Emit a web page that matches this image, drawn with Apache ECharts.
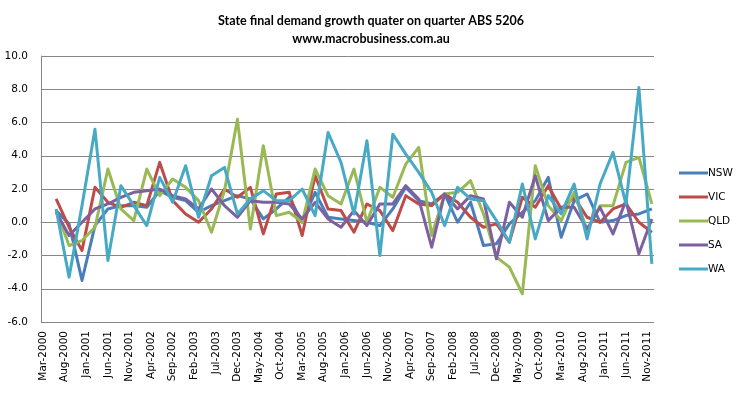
<!DOCTYPE html>
<html>
<head>
<meta charset="utf-8">
<script src="https://cdn.jsdelivr.net/npm/echarts@6/dist/echarts.min.js"></script>
<style>
html,body{margin:0;padding:0;background:#fff;}
#chart{width:742px;height:393px;}
</style>
</head>
<body>
<div id="chart"></div>
<script>
// Axis runs monthly from Mar-2000 to Dec-2011; data are quarterly from Jun-2000 to Dec-2011
var monthNames = ['Jan','Feb','Mar','Apr','May','Jun','Jul','Aug','Sep','Oct','Nov','Dec'];
var axisStart = {year: 2000, month: 2};
var axisEnd = {year: 2011, month: 11};
var firstQuarter = {year: 2000, month: 5};

var seriesNames = ['NSW', 'VIC', 'QLD', 'SA', 'WA'];
var NSW = [0.7,-0.1,-3.5,-0.2,0.8,1.0,1.0,0.9,1.9,1.5,1.3,0.6,1.0,1.3,1.6,1.4,0.2,0.8,1.5,0.0,1.8,0.3,0.2,0.1,0.0,-0.2,0.8,2.1,1.3,1.1,1.7,0.0,1.2,-1.4,-1.3,-0.1,0.6,1.3,2.7,-0.9,1.3,1.7,0.0,0.1,0.4,0.5,0.8];
var VIC = [1.4,-0.3,-1.7,2.1,1.2,0.9,1.2,1.0,3.6,1.3,0.5,0.0,0.8,2.0,1.5,2.1,-0.7,1.7,1.8,-0.8,2.8,0.8,0.7,-0.6,1.1,0.7,-0.5,1.6,1.1,1.0,1.7,1.2,0.3,-0.3,-0.1,-1.2,1.5,0.9,2.2,0.8,1.5,0.3,0.0,0.8,1.1,0.0,-0.6];
var QLD = [0.7,-1.4,-1.1,-0.3,3.2,0.8,0.1,3.2,1.6,2.6,2.1,1.3,-0.6,1.9,6.2,-0.4,4.6,0.4,0.6,0.0,3.2,1.6,1.1,3.2,0.0,2.1,1.5,3.5,4.5,-0.8,1.7,1.8,2.5,0.5,-2.1,-2.7,-4.3,3.4,1.0,0.1,1.8,-0.5,1.0,1.0,3.6,3.9,1.1];
var SA  = [0.6,-0.8,0.0,0.8,1.1,1.5,1.8,1.9,2.0,1.6,1.4,0.8,2.0,1.0,0.3,1.3,1.2,1.2,1.1,0.2,1.2,0.2,-0.3,0.7,-0.2,1.1,1.1,2.2,1.4,-1.5,1.7,0.8,1.6,1.4,-2.2,1.2,0.3,2.8,0.1,0.9,0.9,-0.4,0.9,-0.7,1.3,-1.9,0.2];
var WA  = [0.8,-3.3,1.0,5.6,-2.3,2.2,1.0,-0.2,2.7,1.2,3.4,0.3,2.8,3.3,0.5,1.4,1.9,1.3,1.3,2.0,0.4,5.4,3.6,0.5,4.9,-2.0,5.3,4.1,3.0,1.8,-0.2,2.1,1.4,1.3,0.1,-1.2,2.3,-1.0,1.6,0.5,2.3,-1.0,2.3,4.2,1.1,8.1,-2.5];
var colors = ['#4A7EBB', '#BE4B48', '#98B954', '#7D60A0', '#46AAC5'];
var yTicks = {min: -6, max: 10, step: 2};
var titleLines = ['State final demand growth quater on quarter ABS 5206', 'www.macrobusiness.com.au'];

function label(y, m) { return monthNames[m] + '-' + y; }
var categories = [];
for (var y = axisStart.year, m = axisStart.month; y < axisEnd.year || (y === axisEnd.year && m <= axisEnd.month); ) {
  categories.push(label(y, m));
  m++; if (m > 11) { m = 0; y++; }
}
var quarters = [];
(function () {
  var y = firstQuarter.year, m = firstQuarter.month;
  for (var i = 0; i < NSW.length; i++) {
    quarters.push(label(y, m));
    m += 3; if (m > 11) { m -= 12; y++; }
  }
})();

var allData = [NSW, VIC, QLD, SA, WA];
var series = seriesNames.map(function (name, k) {
  return {
    name: name,
    type: 'line',
    symbol: 'none',
    showSymbol: false,
    lineStyle: {width: 3, color: colors[k], join: 'round'},
    itemStyle: {color: colors[k]},
    data: allData[k].map(function (v, i) { return [quarters[i], v]; })
  };
});

var chart = echarts.init(document.getElementById('chart'), null, {renderer: 'canvas'});
chart.setOption({
  animation: false,
  backgroundColor: '#ffffff',
  color: colors,
  title: {
    text: titleLines.join('\n'),
    left: 'center',
    top: 7,
    textStyle: {fontFamily: 'Lato', fontSize: 12.5, fontWeight: 'bold', color: '#000', lineHeight: 18}
  },
  legend: {
    orient: 'vertical',
    left: 674,
    top: 161,
    icon: 'rect',
    itemWidth: 29,
    itemHeight: 3,
    itemGap: 10,
    data: seriesNames,
    textStyle: {fontFamily: 'DejaVu Sans', fontSize: 10.5, color: '#000', lineHeight: 14, padding: [0,0,0,-5]}
  },
  grid: {left: 41, right: 88, top: 56, bottom: 71, containLabel: false},
  xAxis: {
    type: 'category',
    data: categories,
    boundaryGap: true,
    axisLine: {show: true, lineStyle: {color: '#868686', width: 1}},
    axisTick: {show: false},
    axisLabel: {
      interval: 4,
      rotate: 90,
      margin: 9,
      fontFamily: 'DejaVu Sans',
      fontSize: 10.5,
      color: '#000'
    },
    splitLine: {show: false}
  },
  yAxis: {
    type: 'value',
    min: yTicks.min,
    max: yTicks.max,
    interval: yTicks.step,
    axisLine: {show: true, lineStyle: {color: '#868686', width: 1}},
    axisTick: {show: false},
    axisLabel: {
      margin: 13,
      fontFamily: 'DejaVu Sans',
      fontSize: 10.5,
      color: '#000',
      formatter: function (v) { return v.toFixed(1); }
    },
    splitLine: {show: true, lineStyle: {color: '#868686', width: 1}}
  },
  series: series
});
</script>
</body>
</html>
